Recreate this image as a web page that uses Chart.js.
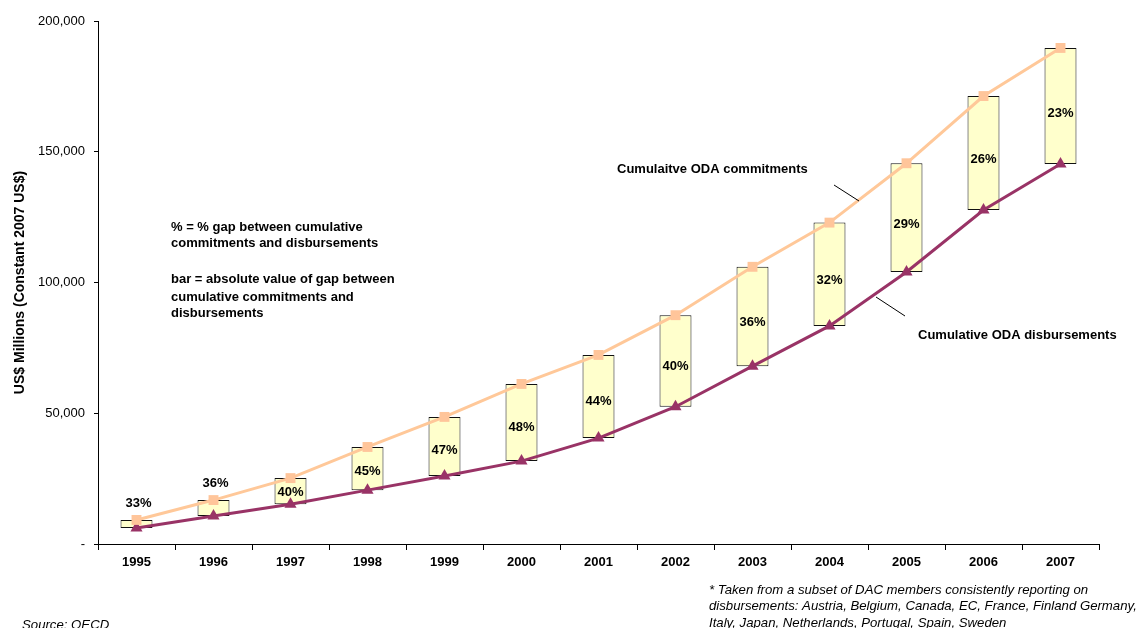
<!DOCTYPE html>
<html>
<head>
<meta charset="utf-8">
<script src="https://cdn.jsdelivr.net/npm/chart.js@4.4.0/dist/chart.umd.min.js"></script>
<style>
  html, body { margin: 0; padding: 0; background: #fff; }
  canvas { display: block; }
</style>
</head>
<body>
<canvas id="c" width="1141" height="628"></canvas>
<script>
// Cumulative ODA, US$ millions (constant 2007 US$)
const years = ['1995', '1996', '1997', '1998', '1999', '2000', '2001', '2002', '2003', '2004', '2005', '2006', '2007'];
const commitments = [9200, 16800, 25200, 37100, 48600, 61200, 72300, 87500, 106000, 122900, 145600, 171300, 189700];
const disbursements = [6100, 10700, 15200, 20600, 26000, 31700, 40500, 52500, 68000, 83400, 104000, 127700, 145300];
const gapPercent = [33, 36, 40, 45, 47, 48, 44, 40, 36, 32, 29, 26, 23];
const yTickValues = [0, 50000, 100000, 150000, 200000];

const FONT = '"Liberation Sans", Arial, Helvetica, sans-serif';

// Floating bars spanning disbursements..commitments
const gapBars = years.map((y, i) => [disbursements[i], commitments[i]]);
const GAP_INDEX = 2;

const noteLines = [
  { text: '% = % gap between cumulative', y: 227 },
  { text: 'commitments and disbursements', y: 243 },
  { text: 'bar = absolute value of gap between', y: 279 },
  { text: 'cumulative commitments and', y: 297 },
  { text: 'disbursements', y: 313 }
];

const footLines = [
  '* Taken from a subset of DAC members consistently reporting on',
  'disbursements: Austria, Belgium, Canada, EC, France, Finland Germany,',
  'Italy, Japan, Netherlands, Portugal, Spain, Sweden'
];

const overlay = {
  id: 'overlay',
  afterDatasetsDraw(chart) {
    const ctx = chart.ctx;
    const bars = chart.getDatasetMeta(GAP_INDEX).data;
    ctx.save();
    ctx.fillStyle = '#000';
    ctx.font = 'bold 13px ' + FONT;
    ctx.textAlign = 'center';
    ctx.textBaseline = 'middle';
    bars.forEach((bar, i) => {
      const top = Math.min(bar.y, bar.base);
      const bottom = Math.max(bar.y, bar.base);
      const h = bottom - top;
      const small = h < 20;
      const y = small ? top - 17 : (top + bottom) / 2 + h * 0.06;
      ctx.fillText(gapPercent[i] + '%', bar.x + (small ? 2 : 0), y);
    });

    // series call-outs
    ctx.textAlign = 'left';
    ctx.fillText('Cumulaitve ODA commitments', 617, 169);
    ctx.fillText('Cumulative ODA disbursements', 918, 335);
    ctx.strokeStyle = '#000';
    ctx.lineWidth = 1;
    ctx.beginPath();
    ctx.moveTo(834, 185); ctx.lineTo(859, 201);
    ctx.moveTo(876, 297); ctx.lineTo(905, 316);
    ctx.stroke();

    // explanatory note
    noteLines.forEach(l => ctx.fillText(l.text, 171, l.y));

    // footnotes
    ctx.font = 'italic 13.2px ' + FONT;
    footLines.forEach((t, i) => ctx.fillText(t, 709, 590 + i * 16.5));
    ctx.fillText('Source: OECD', 22, 625);
    ctx.restore();
  }
};

new Chart(document.getElementById('c'), {
  data: {
    labels: years,
    datasets: [
      {
        type: 'line',
        label: 'Cumulative ODA commitments',
        data: commitments,
        borderColor: '#FFC899',
        backgroundColor: '#FFC59A',
        borderWidth: 3,
        pointStyle: 'rect',
        pointRadius: 7,
        pointBorderWidth: 0,
        tension: 0,
        order: 1
      },
      {
        type: 'line',
        label: 'Cumulative ODA disbursements',
        data: disbursements,
        borderColor: '#993366',
        backgroundColor: '#993366',
        borderWidth: 3,
        pointStyle: 'triangle',
        pointRadius: 7,
        pointBorderWidth: 0,
        tension: 0,
        order: 1
      },
      {
        type: 'bar',
        label: 'Gap',
        data: gapBars,
        backgroundColor: '#FFFFCC',
        borderColor: '#111',
        borderWidth: 1,
        borderSkipped: false,
        categoryPercentage: 1,
        barPercentage: 0.415,
        order: 2
      }
    ]
  },
  options: {
    responsive: false,
    animation: false,
    layout: { padding: { top: 21, right: 42, bottom: 0, left: 0 } },
    plugins: {
      legend: { display: false },
      tooltip: { enabled: false }
    },
    scales: {
      x: {
        type: 'category',
        offset: true,
        grid: { offset: true, drawOnChartArea: false, tickLength: 6, color: '#000' },
        border: { display: true, color: '#000', width: 1 },
        ticks: { color: '#000', font: { family: FONT, size: 13, weight: 'bold' }, padding: 5, maxRotation: 0 },
        afterFit(scale) { scale.height = 84; }
      },
      y: {
        min: 0,
        max: 200000,
        afterBuildTicks(scale) { scale.ticks = yTickValues.map(v => ({ value: v })); },
        grid: { drawOnChartArea: false, tickLength: 4, color: '#000' },
        border: { display: true, color: '#000', width: 1 },
        ticks: {
          color: '#000',
          padding: 9,
          font: { family: FONT, size: 13 },
          callback: v => v === 0 ? '-' : v.toLocaleString('en-US')
        },
        title: {
          display: true,
          text: 'US$ Millions (Constant 2007 US$)',
          color: '#000',
          font: { family: FONT, size: 14, weight: 'bold' },
          padding: { top: 12, bottom: 0 }
        },
        afterFit(scale) { scale.width = 98; }
      }
    }
  },
  plugins: [overlay]
});
</script>
</body>
</html>
